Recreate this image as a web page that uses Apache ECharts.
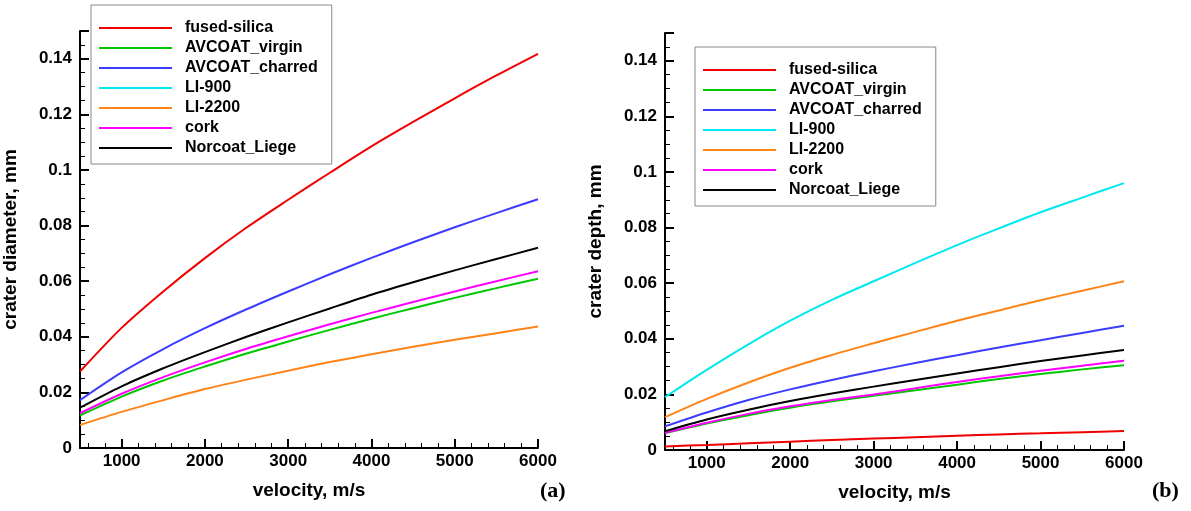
<!DOCTYPE html>
<html>
<head>
<meta charset="utf-8">
<script src="https://cdn.jsdelivr.net/npm/echarts@6/dist/echarts.min.js"></script>
<style>
  html, body { margin: 0; padding: 0; background: #fff; }
  #chart { width: 1191px; height: 511px; }
</style>
</head>
<body>
<div id="chart"></div>
<script>
  // velocity, m/s
  const velocity = [500, 1000, 1500, 2000, 2500, 3000, 3500, 4000, 4500, 5000, 5500, 6000];

  const seriesNames = ['fused-silica', 'AVCOAT_virgin', 'AVCOAT_charred', 'LI-900', 'LI-2200', 'cork', 'Norcoat_Liege'];
  const seriesColors = ['#f00000', '#00c800', '#3c3cff', '#00e8f0', '#ff8418', '#ff00ff', '#000000'];

  // (a) crater diameter, mm
  const diaFusedSilica = [0.0275, 0.0432, 0.0563, 0.0683, 0.0793, 0.0893, 0.0990, 0.1085, 0.1173, 0.1258, 0.1340, 0.1418];
  const diaAvcoatVirgin = [0.0117, 0.0185, 0.0243, 0.0293, 0.0340, 0.0383, 0.0425, 0.0465, 0.0503, 0.0540, 0.0575, 0.0609];
  const diaAvcoatCharred = [0.0172, 0.0272, 0.0356, 0.0431, 0.0499, 0.0563, 0.0625, 0.0684, 0.0740, 0.0794, 0.0845, 0.0895];
  const diaLI900 = [];
  const diaLI2200 = [0.0083, 0.0130, 0.0172, 0.0212, 0.0246, 0.0278, 0.0309, 0.0337, 0.0364, 0.0389, 0.0413, 0.0437];
  const diaCork = [0.0125, 0.0195, 0.0255, 0.0308, 0.0357, 0.0402, 0.0445, 0.0486, 0.0525, 0.0563, 0.0600, 0.0636];
  const diaNorcoat = [0.0145, 0.0222, 0.0287, 0.0345, 0.0400, 0.0452, 0.0502, 0.0551, 0.0596, 0.0639, 0.0680, 0.0720];

  // (b) crater depth, mm
  const depFusedSilica = [0.0013, 0.0018, 0.0024, 0.0030, 0.0036, 0.0041, 0.0046, 0.0051, 0.0056, 0.0060, 0.0064, 0.0068];
  const depAvcoatVirgin = [0.0060, 0.0095, 0.0125, 0.0152, 0.0175, 0.0195, 0.0215, 0.0235, 0.0255, 0.0273, 0.0290, 0.0305];
  const depAvcoatCharred = [0.0085, 0.0135, 0.0180, 0.0218, 0.0252, 0.0283, 0.0313, 0.0341, 0.0369, 0.0395, 0.0421, 0.0447];
  const depLI900 = [0.0190, 0.0288, 0.0380, 0.0465, 0.0540, 0.0607, 0.0673, 0.0737, 0.0797, 0.0855, 0.0908, 0.0960];
  const depLI2200 = [0.0118, 0.0184, 0.0243, 0.0296, 0.0342, 0.0384, 0.0425, 0.0465, 0.0502, 0.0539, 0.0573, 0.0607];
  const depCork = [0.0062, 0.0098, 0.0130, 0.0157, 0.0180, 0.0200, 0.0222, 0.0245, 0.0265, 0.0285, 0.0303, 0.0321];
  const depNorcoat = [0.0068, 0.0110, 0.0145, 0.0176, 0.0203, 0.0228, 0.0252, 0.0275, 0.0298, 0.0320, 0.0340, 0.0360];

  const diameterData = [diaFusedSilica, diaAvcoatVirgin, diaAvcoatCharred, diaLI900, diaLI2200, diaCork, diaNorcoat];
  const depthData = [depFusedSilica, depAvcoatVirgin, depAvcoatCharred, depLI900, depLI2200, depCork, depNorcoat];

  const font = "'Liberation Sans', Arial, Helvetica, sans-serif";

  function pairs(vals) {
    return vals.map((v, i) => [velocity[i], v]);
  }

  function makeXAxis(gridIndex) {
    return {
      type: 'value', gridIndex: gridIndex,
      min: 500, max: 6000, minInterval: 1000, maxInterval: 1000,
      name: 'velocity, m/s', nameLocation: 'middle', nameGap: 33,
      nameTextStyle: { color: '#000', fontFamily: font, fontWeight: 'bold', fontSize: 19 },
      axisLine: { lineStyle: { color: '#000', width: 2 } },
      axisTick: { inside: true, length: 9, lineStyle: { color: '#000', width: 2 } },
      minorTick: { show: true, splitNumber: 5, length: 5, lineStyle: { color: '#000', width: 1 } },
      axisLabel: {
        color: '#000', fontFamily: font, fontWeight: 'bold', fontSize: 17, margin: 5, showMinLabel: false,
        formatter: (v) => String(v)
      },
      splitLine: { show: false }
    };
  }

  function makeYAxis(gridIndex, name) {
    return {
      type: 'value', gridIndex: gridIndex,
      min: 0, max: 0.15, interval: 0.02,
      name: name, nameLocation: 'middle', nameGap: 60,
      nameTextStyle: { color: '#000', fontFamily: font, fontWeight: 'bold', fontSize: 19 },
      axisLine: { lineStyle: { color: '#000', width: 2 } },
      axisTick: { inside: true, length: 9, lineStyle: { color: '#000', width: 2 } },
      minorTick: { show: true, splitNumber: 4, length: 5, lineStyle: { color: '#000', width: 1 } },
      axisLabel: { color: '#000', fontFamily: font, fontWeight: 'bold', fontSize: 17, margin: 8, showMaxLabel: false },
      splitLine: { show: false }
    };
  }

  function makeLegend(left, top) {
    return {
      data: seriesNames,
      orient: 'vertical', left: left, top: top,
      padding: [15, 14, 8, 8],
      icon: 'rect',
      itemWidth: 73, itemHeight: 2, itemGap: 4,
      backgroundColor: '#fff',
      borderColor: '#888', borderWidth: 1,
      textStyle: { color: '#000', fontFamily: font, fontWeight: 'bold', fontSize: 16, padding: [0, 0, 0, 8] }
    };
  }

  const series = [];
  [diameterData, depthData].forEach((panel, p) => {
    panel.forEach((vals, i) => {
      series.push({
        name: seriesNames[i], type: 'line',
        xAxisIndex: p, yAxisIndex: p,
        data: pairs(vals),
        symbol: 'none', smooth: 0.3,
        lineStyle: { color: seriesColors[i], width: 2 },
        itemStyle: { color: seriesColors[i] },
        animation: false
      });
    });
  });

  const chart = echarts.init(document.getElementById('chart'), null, { renderer: 'canvas' });
  chart.setOption({
    animation: false,
    backgroundColor: '#fff',
    grid: [
      { left: 78, top: 31, width: 460, height: 417 },
      { left: 665, top: 33, width: 459, height: 417 }
    ],
    xAxis: [makeXAxis(0), makeXAxis(1)],
    yAxis: [makeYAxis(0, 'crater diameter, mm'), makeYAxis(1, 'crater depth, mm')],
    legend: [makeLegend(91, 5), makeLegend(695, 47)],
    graphic: [
      { type: 'text', left: 540, top: 480, style: { text: '(a)', fill: '#000', font: "bold 22px 'Liberation Serif', 'Times New Roman', serif" } },
      { type: 'text', left: 1152, top: 480, style: { text: '(b)', fill: '#000', font: "bold 22px 'Liberation Serif', 'Times New Roman', serif" } }
    ],
    series: series
  });
</script>
</body>
</html>
